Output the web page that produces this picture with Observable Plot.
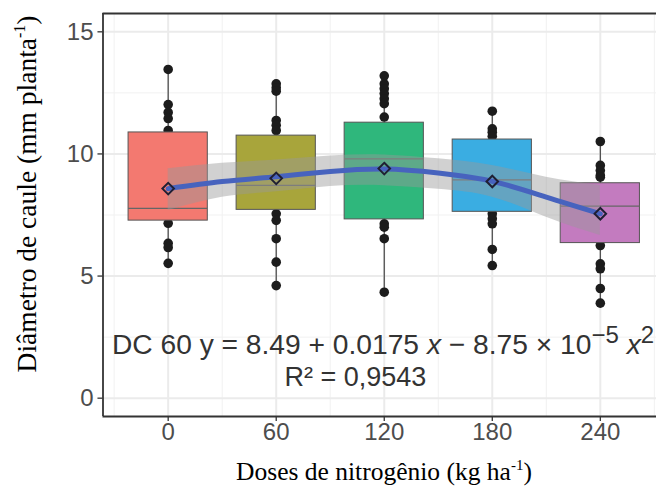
<!DOCTYPE html>
<html><head><meta charset="utf-8">
<script src="https://cdn.jsdelivr.net/npm/d3@7"></script>
<script src="https://cdn.jsdelivr.net/npm/@observablehq/plot@0.6"></script>
<style>html,body{margin:0;padding:0;background:#fff;overflow:hidden;} #chart svg{overflow:hidden;display:block}</style>
</head><body><div id="chart"></div><script>
// ---- data ----
const doses = [0, 60, 120, 180, 240];
const doseLabels = ["0", "60", "120", "180", "240"];
const yTicks = [0, 5, 10, 15];
const yTickLabels = ["0", "5", "10", "15"];
const boxQ1 = [7.27, 7.71, 7.32, 7.63, 6.35];
const boxMedian = [7.77, 8.71, 9.80, 8.94, 7.86];
const boxQ3 = [10.88, 10.75, 11.28, 10.59, 8.80];
const boxMean = [8.58, 9.00, 9.40, 8.87, 7.55];
const boxColors = ["#F37970", "#A8A53B", "#2FB77C", "#3AADE2", "#C37BBF"];
const obs0 = [13.46, 12.02, 11.7, 11.45, 10.96, 7.16, 6.34, 6.17, 5.52];
const obs60 = [12.87, 12.71, 12.57, 11.37, 11.17, 10.96, 7.55, 7.28, 6.53, 5.57, 4.61];
const obs120 = [13.2, 12.87, 12.67, 12.47, 12.26, 12.06, 11.51, 7.14, 7.0, 6.53, 4.34];
const obs180 = [11.75, 11.03, 10.89, 10.72, 7.55, 7.35, 7.14, 6.09, 5.43];
const obs240 = [10.51, 9.53, 9.32, 9.12, 9.05, 6.25, 5.50, 5.30, 4.49, 3.89];
const fitX = [0, 30, 60, 90, 120, 150, 180, 210, 240];
const fitY = [8.58, 8.87, 9.07, 9.28, 9.38, 9.22, 8.88, 8.23, 7.55];
const fitLo = [7.68, 8.23, 8.45, 8.67, 8.70, 8.55, 8.23, 7.41, 6.66];
const fitHi = [9.39, 9.62, 9.75, 9.92, 9.96, 9.80, 9.53, 9.05, 8.71];
const equationParts = ["DC 60 y = 8.49 + 0.0175 ", "x", " − 8.75 × 10", "−5", " ", "x", "2"];
const r2Label = "R² = 0,9543";

// ---- derived tables ----
const obsByDose = [obs0, obs60, obs120, obs180, obs240];
const points = doses.flatMap((d, i) => obsByDose[i].map(v => ({dose: d, value: v})));
const boxes = doses.map((d, i) => ({
  dose: d, q1: boxQ1[i], med: boxMedian[i], q3: boxQ3[i], mean: boxMean[i],
  lo: d3.min(obsByDose[i]), hi: d3.max(obsByDose[i]), color: boxColors[i]
}));
const fit = fitX.map((x, i) => ({x, y: fitY[i], lo: fitLo[i], hi: fitHi[i]}));

const xDomain = [-36.2, 276.2];
const yDomain = [-0.75, 15.75];
const xRange = [102.5, 665];
const yRange = [416, 13];
const boxHalf = 22;
const yMajor = [0, 5, 10, 15], yMinor = [2.5, 7.5, 12.5];
const xMinor = [-30, 30, 90, 150, 210, 270];
const sans = "Liberation Sans, Arial, sans-serif";
const serif = "Liberation Serif, Times New Roman, serif";

function annotations(index, scales) {
  const sx = scales && scales.x ? scales.x : d3.scaleLinear(xDomain, xRange);
  const sy = scales && scales.y ? scales.y : d3.scaleLinear(yDomain, yRange);
  const g = d3.create("svg:g");
  // equation
  const t = g.append("text").attr("x", sx(119.6)).attr("y", sy(1.79))
    .attr("text-anchor", "middle").attr("font-family", sans).attr("font-size", 28.2)
    .attr("fill", "#333").style("white-space", "pre");
  t.append("tspan").text(equationParts[0]);
  t.append("tspan").attr("font-style", "italic").text(equationParts[1]);
  t.append("tspan").text(equationParts[2]);
  t.append("tspan").attr("dy", -11).attr("font-size", 24).text(equationParts[3]);
  t.append("tspan").attr("dy", 11).text(equationParts[4]);
  t.append("tspan").attr("font-style", "italic").text(equationParts[5]);
  t.append("tspan").attr("dy", -11).attr("font-size", 24).text(equationParts[6]);
  g.append("text").attr("x", sx(104.3)).attr("y", sy(0.46))
    .attr("text-anchor", "middle").attr("font-family", sans).attr("font-size", 27)
    .attr("fill", "#333").text(r2Label);
  // axis titles
  const xt = g.append("text").attr("x", 384).attr("y", 480).attr("text-anchor", "middle")
    .attr("font-family", serif).attr("font-size", 25.5).attr("fill", "#000").style("white-space", "pre");
  xt.append("tspan").text("Doses de nitrogênio (kg ha");
  xt.append("tspan").attr("dy", -10).attr("font-size", 15).text("-1");
  xt.append("tspan").attr("dy", 10).text(")");
  const yt = g.append("text").attr("transform", "translate(36,194) rotate(-90)").attr("text-anchor", "middle")
    .attr("font-family", serif).attr("font-size", 27.5).attr("fill", "#000").style("white-space", "pre");
  yt.append("tspan").text("Diâmetro de caule (mm planta");
  yt.append("tspan").attr("dy", -11).attr("font-size", 16).text("-1");
  yt.append("tspan").attr("dy", 11).text(")");
  return g.node();
}

const chart = Plot.plot({
  width: 656, height: 489,
  marginLeft: xRange[0], marginRight: 0, marginTop: yRange[1], marginBottom: 489 - yRange[0],
  x: {domain: xDomain, range: xRange, axis: null},
  y: {domain: yDomain, range: yRange, axis: null},
  color: {type: "identity"},
  style: {fontFamily: sans, background: "#fff"},
  marks: [
    // grid
    Plot.ruleY(yMinor, {y: d => d, x1: xDomain[0], x2: xDomain[1], stroke: "#f1f1f1", strokeWidth: 1}),
    Plot.ruleX(xMinor, {x: d => d, y1: yDomain[0], y2: yDomain[1], stroke: "#f1f1f1", strokeWidth: 1}),
    Plot.ruleY(yMajor, {y: d => d, x1: xDomain[0], x2: xDomain[1], stroke: "#ebebeb", strokeWidth: 2}),
    Plot.ruleX(doses, {x: d => d, y1: yDomain[0], y2: yDomain[1], stroke: "#ebebeb", strokeWidth: 2}),
    // whiskers, points, boxes
    Plot.ruleX(boxes, {x: "dose", y1: "lo", y2: "hi", stroke: "#444", strokeWidth: 1.2}),
    Plot.dot(points, {x: "dose", y: "value", r: 4.8, fill: "#1c1c1c"}),
    Plot.rect(boxes, {x1: d => d.dose - boxHalf, x2: d => d.dose + boxHalf, y1: "q1", y2: "q3", fill: "color", stroke: "#555", strokeWidth: 1}),
    Plot.ruleY(boxes, {y: "med", x1: d => d.dose - boxHalf, x2: d => d.dose + boxHalf, stroke: "#666", strokeWidth: 1.2}),
    // fit
    Plot.areaY(fit, {x: "x", y1: "lo", y2: "hi", fill: "#999", fillOpacity: 0.45, curve: "natural"}),
    Plot.line(fit, {x: "x", y: "y", stroke: "#4763BE", strokeWidth: 5, curve: "natural"}),
    Plot.dot(boxes, {x: "dose", y: "mean", symbol: "diamond2", r: 5.2, stroke: "#1f1f33", strokeWidth: 2, fill: "none"}),
    // panel border
    Plot.ruleY([yDomain[0], yDomain[1]], {y: d => d, x1: xDomain[0], x2: xDomain[1], stroke: "#333", strokeWidth: 1.8}),
    Plot.ruleX([xDomain[0]], {x: d => d, y1: yDomain[0], y2: yDomain[1], stroke: "#333", strokeWidth: 1.8}),
    // ticks
    Plot.ruleY(yTicks, {y: d => d, x1: xDomain[0] - 2.8, x2: xDomain[0], stroke: "#333", strokeWidth: 1.3}),
    Plot.ruleX(doses, {x: d => d, y1: yDomain[0], y2: yDomain[0] - 0.2, stroke: "#333", strokeWidth: 1.3}),
    Plot.text(yTicks, {y: d => d, text: (d, i) => yTickLabels[i], frameAnchor: "left", dx: -9.5, textAnchor: "end", fontSize: 24, fill: "#4d4d4d"}),
    Plot.text(doses, {x: d => d, text: (d, i) => doseLabels[i], frameAnchor: "bottom", dy: 23, fontSize: 24, fill: "#4d4d4d"}),
    annotations
  ]
});
document.getElementById("chart").append(chart);
</script></body></html>
